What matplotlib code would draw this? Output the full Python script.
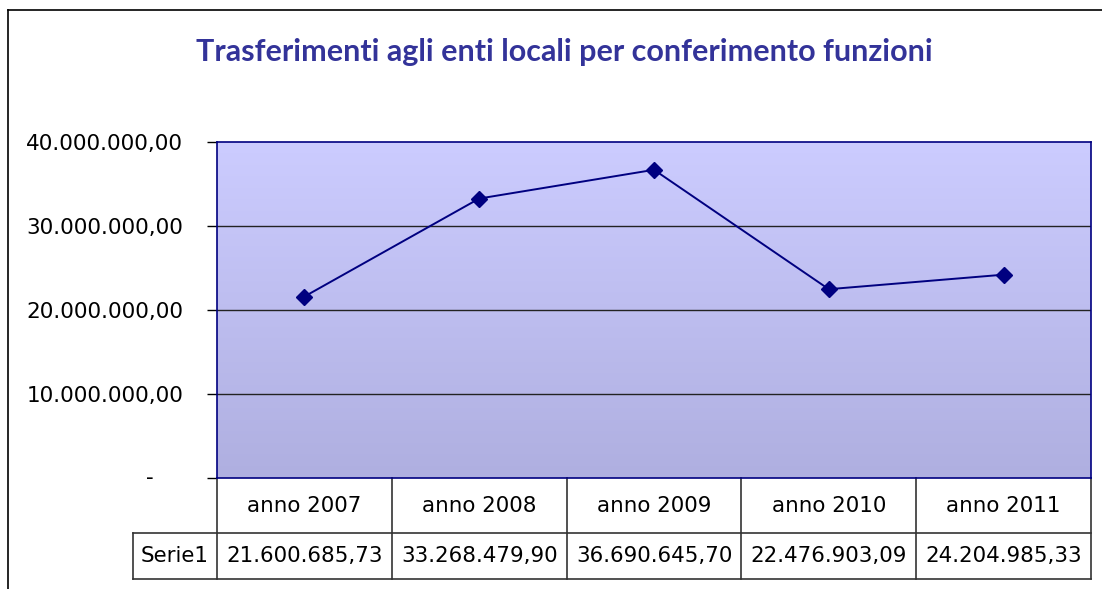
import numpy as np
import matplotlib.pyplot as plt
from matplotlib.colors import LinearSegmentedColormap
from matplotlib.lines import Line2D
from matplotlib.ticker import FuncFormatter

# dati del grafico
anni = ["anno 2007", "anno 2008", "anno 2009", "anno 2010", "anno 2011"]
valori = [21600685.73, 33268479.90, 36690645.70, 22476903.09, 24204985.33]
nome_serie = "Serie1"
titolo = "Trasferimenti agli enti locali per conferimento funzioni"
tick_y = [0, 10000000, 20000000, 30000000, 40000000]

BLU_TITOLO = "#333399"
BLU_LINEA = "#000080"
GRIGIO_BORDO = "#333333"


def formato_it(v):
    # formato italiano: punto per le migliaia, virgola per i decimali
    s = f"{v:,.2f}"
    return s.replace(",", "X").replace(".", ",").replace("X", ".")


W, H = 1102, 589
fig = plt.figure(figsize=(W / 100, H / 100), dpi=100)
fig.patch.set_facecolor("white")

# bordo dell'area del grafico (tagliato a destra e in basso)
fig.add_artist(Line2D([8 / W, 1], [1 - 10 / H, 1 - 10 / H], color="black", lw=1.2))
fig.add_artist(Line2D([8 / W, 8 / W], [0, 1 - 10 / H], color="black", lw=1.2))

ax = fig.add_axes([217 / W, 1 - 478 / H, (1091 - 217) / W, (478 - 142) / H])

x = np.arange(len(anni))
ax.set_xlim(-0.5, len(anni) - 0.5)
ax.set_ylim(0, 40000000)

# sfondo sfumato dell'area del tracciato
sfumatura = LinearSegmentedColormap.from_list("sf", ["#AFAFE0", "#CCCCFF"])
grad = np.linspace(0, 1, 256).reshape(-1, 1)
ax.imshow(grad, cmap=sfumatura, aspect="auto", origin="lower",
          extent=(-0.5, len(anni) - 0.5, 0, 40000000), zorder=0)

for t in tick_y[1:-1]:
    ax.axhline(t, color="#222222", lw=1.0, zorder=1)

ax.plot(x, valori, color=BLU_LINEA, lw=1.4, marker="D", markersize=8,
        markerfacecolor=BLU_LINEA, markeredgecolor=BLU_LINEA, zorder=3)

for lato in ["top", "right", "bottom", "left"]:
    ax.spines[lato].set_color(BLU_LINEA)
    ax.spines[lato].set_linewidth(1.2)

ax.set_xticks([])
ax.set_yticks(tick_y)
ax.yaxis.set_major_formatter(FuncFormatter(lambda v, p: "" if v == 0 else formato_it(v)))
ax.tick_params(axis="y", direction="out", length=7.2, width=1.0, color="black",
               pad=17, labelsize=15.5)
ax.annotate("-", xy=(0, 0), xycoords=("axes fraction", "data"),
            xytext=(-67, 0), textcoords="offset pixels",
            ha="center", va="center", fontsize=15.5)

# tabella dati sotto il grafico
trans = ax.get_xaxis_transform()
h1 = 55 / (478 - 142)
h2 = 46 / (478 - 142)
x_serie = -0.5 - 84 / 174.8
kw = dict(transform=trans, color=GRIGIO_BORDO, lw=1.2, clip_on=False)
for b in np.arange(len(anni) + 1) - 0.5:
    ax.add_line(Line2D([b, b], [0, -h1 - h2], **kw))
ax.add_line(Line2D([x_serie, x_serie], [-h1, -h1 - h2], **kw))
ax.add_line(Line2D([x_serie, len(anni) - 0.5], [-h1, -h1], **kw))
ax.add_line(Line2D([x_serie, len(anni) - 0.5], [-h1 - h2, -h1 - h2], **kw))

for xi, anno, v in zip(x, anni, valori):
    ax.text(xi, -h1 / 2, anno, transform=trans, ha="center", va="center", fontsize=15.4)
    ax.text(xi, -h1 - h2 / 2, formato_it(v), transform=trans, ha="center",
            va="center", fontsize=15.4)
ax.text((x_serie - 0.5) / 2, -h1 - h2 / 2, nome_serie, transform=trans,
        ha="center", va="center", fontsize=15.4)

fig.text(564 / W, 1 - 52 / H, titolo, ha="center", va="center",
         fontsize=22, fontweight="bold", color=BLU_TITOLO, family="Lato")

fig.savefig("out.png", dpi=100)
